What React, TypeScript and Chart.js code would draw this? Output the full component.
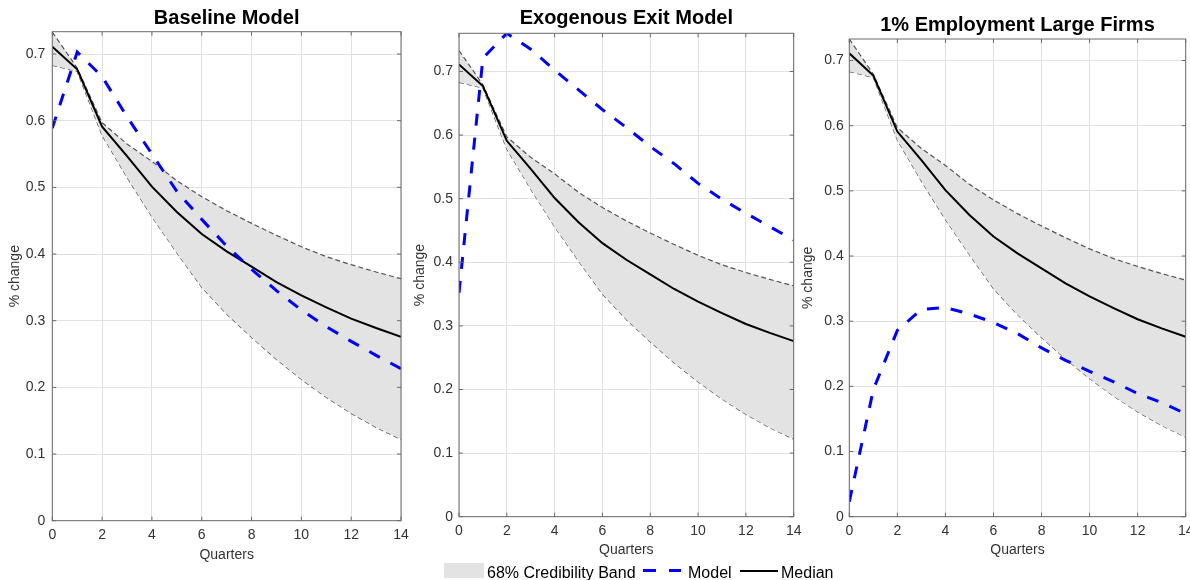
import React, { useEffect, useRef } from 'react';
import { Chart, registerables } from 'chart.js';

Chart.register(...registerables);

// ---------- data ----------
const quarters = [0, 1, 2, 3, 4, 5, 6, 7, 8, 9, 10, 11, 12, 13, 14];
const xTickValues = [0, 2, 4, 6, 8, 10, 12, 14];
const yTickValues = [0, 0.1, 0.2, 0.3, 0.4, 0.5, 0.6, 0.7];

const bandUpper = [0.733, 0.679, 0.597, 0.565, 0.539, 0.51, 0.486, 0.465, 0.446, 0.428, 0.411, 0.396, 0.384, 0.373, 0.363];
const bandLower = [0.683, 0.674, 0.578, 0.515, 0.456, 0.402, 0.35, 0.31, 0.275, 0.242, 0.212, 0.185, 0.161, 0.14, 0.122];
const median = [0.711, 0.677, 0.591, 0.547, 0.501, 0.463, 0.43, 0.404, 0.381, 0.358, 0.338, 0.32, 0.303, 0.289, 0.276];

const modelBaseline = [0.589, 0.703, 0.666, 0.606, 0.55, 0.494, 0.452, 0.412, 0.377, 0.345, 0.316, 0.291, 0.269, 0.248, 0.228];
const modelExogenousExit = [0.352, 0.721, 0.76, 0.735, 0.702, 0.671, 0.64, 0.612, 0.582, 0.555, 0.524, 0.499, 0.477, 0.456, 0.435];
const modelLargeFirms = [0.023, 0.195, 0.286, 0.318, 0.321, 0.311, 0.298, 0.281, 0.259, 0.24, 0.223, 0.207, 0.189, 0.175, 0.158];

const panelTitles = ['Baseline Model', 'Exogenous Exit Model', '1% Employment Large Firms'];
const panelModels = [modelBaseline, modelExogenousExit, modelLargeFirms];
const panelYMax = [0.7335, 0.76, 0.733];

const xAxisTitle = 'Quarters';
const yAxisTitle = '% change';
const legendLabels = ['68% Credibility Band', 'Model', 'Median'];

// ---------- styling / layout ----------
const FONT = "'Liberation Sans', Arial, Helvetica, sans-serif";
const BAND_FILL = '#e3e3e3';
const BAND_EDGE = '#555555';
const GRID = '#e2e2e2';
const BOX = '#6a6a6a';
const TICK_TEXT = '#333333';
const BLUE = '#0000ff';

type Layout = {
  left: number; width: number; yW: number; padRight: number; xH: number;
  titleTop: number; titleBottom: number; yTitlePad: number; xTitlePadBottom: number;
  yTickPad: number; xTickPad: number;
};

const LAYOUTS: Layout[] = [
  { left: 0, width: 410, yW: 52.3, padRight: 9, xH: 59.3, titleTop: 6.3, titleBottom: 1.4, yTitlePad: 6.6, xTitlePadBottom: 16.6, yTickPad: 7, xTickPad: 6 },
  { left: 405, width: 400, yW: 54, padRight: 11.3, xH: 63.3, titleTop: 6.8, titleBottom: 2.5, yTitlePad: 6.6, xTitlePadBottom: 21.3, yTickPad: 6, xTickPad: 6 },
  { left: 800, width: 390, yW: 49.3, padRight: 4.3, xH: 63.3, titleTop: 13.8, titleBottom: 1.2, yTitlePad: 0, xTitlePadBottom: 21.3, yTickPad: 5.5, xTickPad: 6 },
];

const boxPlugin = {
  id: 'matlabBox',
  afterDraw(chart: any) {
    const { ctx, chartArea } = chart;
    const { left, right, top, bottom } = chartArea;
    const xs = chart.scales.x;
    const ys = chart.scales.y;
    const len = 4;
    ctx.save();
    ctx.strokeStyle = BOX;
    ctx.lineWidth = 1;
    ctx.strokeRect(left, top, right - left, bottom - top);
    ctx.beginPath();
    xTickValues.forEach((v) => {
      const px = xs.getPixelForValue(v);
      ctx.moveTo(px, bottom);
      ctx.lineTo(px, bottom - len);
      ctx.moveTo(px, top);
      ctx.lineTo(px, top + len);
    });
    yTickValues.forEach((v) => {
      const py = ys.getPixelForValue(v);
      ctx.moveTo(left, py);
      ctx.lineTo(left + len, py);
      ctx.moveTo(right, py);
      ctx.lineTo(right - len, py);
    });
    ctx.stroke();
    ctx.restore();
  },
};

const toXY = (arr: number[]) => quarters.map((q, i) => ({ x: q, y: arr[i] }));

function Panel({ idx }: { idx: number }) {
  const ref = useRef<HTMLCanvasElement | null>(null);
  const L = LAYOUTS[idx];

  useEffect(() => {
    if (!ref.current) return;
    const tickFont = { family: FONT, size: 14 };
    const chart = new Chart(ref.current, {
      type: 'line',
      data: {
        datasets: [
          {
            label: 'Model',
            data: toXY(panelModels[idx]),
            borderColor: BLUE,
            borderWidth: 3,
            borderDash: [12, 12],
            pointRadius: 0,
            fill: false,
          },
          {
            label: 'Median',
            data: toXY(median),
            borderColor: '#000000',
            borderWidth: 2,
            pointRadius: 0,
            fill: false,
          },
          {
            label: 'Upper',
            data: toXY(bandUpper),
            borderColor: BAND_EDGE,
            borderWidth: 1.2,
            borderDash: [5, 3],
            pointRadius: 0,
            backgroundColor: BAND_FILL,
            fill: '+1',
          },
          {
            label: 'Lower',
            data: toXY(bandLower),
            borderColor: BAND_EDGE,
            borderWidth: 1.2,
            borderDash: [5, 3],
            pointRadius: 0,
            fill: false,
          },
        ],
      },
      options: {
        responsive: false,
        animation: false,
        events: [],
        layout: { padding: { left: 0, right: L.padRight, top: 0, bottom: 0 } },
        elements: { line: { tension: 0 }, point: { radius: 0 } },
        plugins: {
          legend: { display: false },
          tooltip: { enabled: false },
          title: {
            display: true,
            text: panelTitles[idx],
            fullSize: false,
            color: '#000000',
            font: { family: FONT, size: 20, weight: 'bold' },
            padding: { top: L.titleTop, bottom: L.titleBottom },
          },
        },
        scales: {
          x: {
            type: 'linear',
            min: 0,
            max: 14,
            afterBuildTicks: (s: any) => {
              s.ticks = xTickValues.map((v) => ({ value: v }));
            },
            afterFit: (s: any) => {
              s.height = L.xH;
              s.paddingLeft = 0;
              s.paddingRight = 0;
            },
            ticks: {
              font: tickFont,
              color: TICK_TEXT,
              padding: L.xTickPad,
              maxRotation: 0,
              autoSkip: false,
              callback: (v: any) => String(v),
            },
            grid: { color: GRID, drawTicks: false, lineWidth: 1 },
            border: { display: false },
            title: {
              display: true,
              text: xAxisTitle,
              color: TICK_TEXT,
              font: tickFont,
              padding: { top: 0, bottom: L.xTitlePadBottom },
            },
          },
          y: {
            type: 'linear',
            min: 0,
            max: panelYMax[idx],
            afterBuildTicks: (s: any) => {
              s.ticks = yTickValues.map((v) => ({ value: v }));
            },
            afterFit: (s: any) => {
              s.width = L.yW;
              s.paddingTop = 0;
              s.paddingBottom = 0;
            },
            ticks: {
              font: tickFont,
              color: TICK_TEXT,
              padding: L.yTickPad,
              autoSkip: false,
              callback: (v: any) => String(Math.round(Number(v) * 10) / 10),
            },
            grid: { color: GRID, drawTicks: false, lineWidth: 1 },
            border: { display: false },
            title: {
              display: true,
              text: yAxisTitle,
              color: TICK_TEXT,
              font: tickFont,
              padding: { top: L.yTitlePad, bottom: 0 },
            },
          },
        },
      },
      plugins: [boxPlugin],
    } as any);
    return () => chart.destroy();
  }, [idx]);

  return (
    <div style={{ position: 'absolute', left: L.left, top: 0, width: L.width, height: 580 }}>
      <canvas ref={ref} width={L.width} height={580} style={{ display: 'block' }} />
    </div>
  );
}

function Legend() {
  const text: React.CSSProperties = {
    position: 'absolute',
    top: 564,
    height: 18,
    lineHeight: '18px',
    fontFamily: FONT,
    fontSize: 16,
    color: '#000',
    whiteSpace: 'nowrap',
  };
  return (
    <>
      <div style={{ position: 'absolute', left: 444, top: 563, width: 40, height: 15, background: BAND_FILL }} />
      <div style={{ ...text, left: 487 }}>{legendLabels[0]}</div>
      <div
        style={{
          position: 'absolute',
          left: 643,
          top: 569,
          width: 38,
          height: 3,
          background: `repeating-linear-gradient(to right, ${BLUE} 0px, ${BLUE} 13px, transparent 13px, transparent 26px)`,
        }}
      />
      <div style={{ ...text, left: 688 }}>{legendLabels[1]}</div>
      <div style={{ position: 'absolute', left: 740, top: 570, width: 38, height: 2, background: '#000' }} />
      <div style={{ ...text, left: 781 }}>{legendLabels[2]}</div>
    </>
  );
}

export default function App() {
  return (
    <div style={{ position: 'absolute', left: 0, top: 0, width: 1190, height: 580, background: '#fff', overflow: 'hidden' }}>
      {[0, 1, 2].map((i) => (
        <Panel key={i} idx={i} />
      ))}
      <Legend />
    </div>
  );
}
